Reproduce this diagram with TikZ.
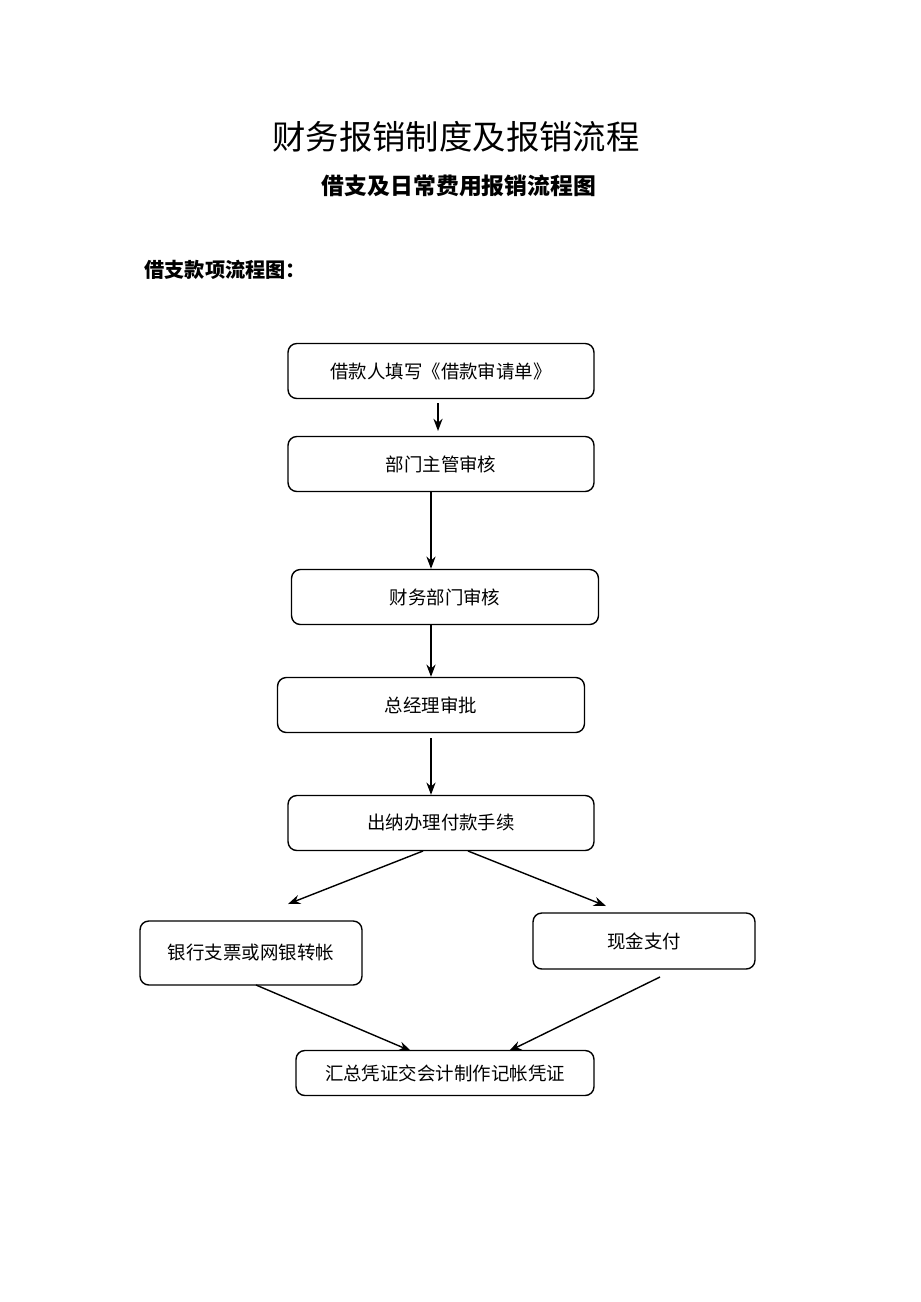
\documentclass[tikz,border=0pt]{standalone}
\usepackage{fontspec}
\newfontfamily\cjk{Noto Sans CJK SC}
\usetikzlibrary{arrows.meta}
\begin{document}
\begin{tikzpicture}[x=0.02cm,y=-0.02cm,thick]
    \tikzset{etape/.style={draw, rounded corners=5pt, font=\cjk\fontsize{10.5pt}{12pt}\selectfont, inner sep=0pt}}
    \tikzset{fleche/.style={-{Stealth[length=7pt]}, line width=0.8pt}}
    \useasboundingbox (0,0) rectangle (920,1302);
    \node[font=\cjk\fontsize{19pt}{22pt}\selectfont] (titre) at (456,137) {财务报销制度及报销流程};
    \node[font=\cjk\bfseries\fontsize{13pt}{15pt}\selectfont] (soustitre) at (459,186) {借支及日常费用报销流程图};
    \node[font=\cjk\bfseries\fontsize{11.5pt}{14pt}\selectfont, anchor=west] (entete) at (138,270) {借支款项流程图：};
    \node[etape, minimum width=306\pgflinewidth/0.8*0+6.12cm, minimum height=1.1cm] (A) at (441,371) {借款人填写《借款审请单》};
    \node[etape, minimum width=6.12cm, minimum height=1.1cm] (B) at (441,464) {部门主管审核};
    \node[etape, minimum width=6.14cm, minimum height=1.1cm] (C) at (445,597) {财务部门审核};
    \node[etape, minimum width=6.14cm, minimum height=1.1cm] (D) at (431,705) {总经理审批};
    \node[etape, minimum width=6.12cm, minimum height=1.1cm] (E) at (441,823) {出纳办理付款手续};
    \node[etape, minimum width=4.44cm, minimum height=1.28cm] (F) at (251,953) {银行支票或网银转帐};
    \node[etape, minimum width=4.44cm, minimum height=1.12cm] (G) at (644,941) {现金支付};
    \node[etape, minimum width=5.96cm, minimum height=0.9cm] (H) at (445,1073) {汇总凭证交会计制作记帐凭证};
    \coordinate (a1) at (438,403);
    \coordinate (b1) at (438,431);
    \coordinate (e1) at (423,851);
    \coordinate (e2) at (468,851);
    \coordinate (f1) at (288,904);
    \coordinate (g1) at (606,906);
    \coordinate (f2) at (256,985);
    \coordinate (g2) at (660,977);
    \coordinate (h1) at (411,1051);
    \coordinate (h2) at (509,1051);
    \draw[fleche] (a1) -- (b1);
    \draw[fleche] (B.south -| 431,0) -- (C.north -| 431,0);
    \draw[fleche] (C.south -| 431,0) -- (D.north -| 431,0);
    \draw[fleche] (431,738) -- (E.north -| 431,0);
    \draw[fleche] (e1) -- (f1);
    \draw[fleche] (e2) -- (g1);
    \draw[fleche] (f2) -- (h1);
    \draw[fleche] (g2) -- (h2);
\end{tikzpicture}
\end{document}
